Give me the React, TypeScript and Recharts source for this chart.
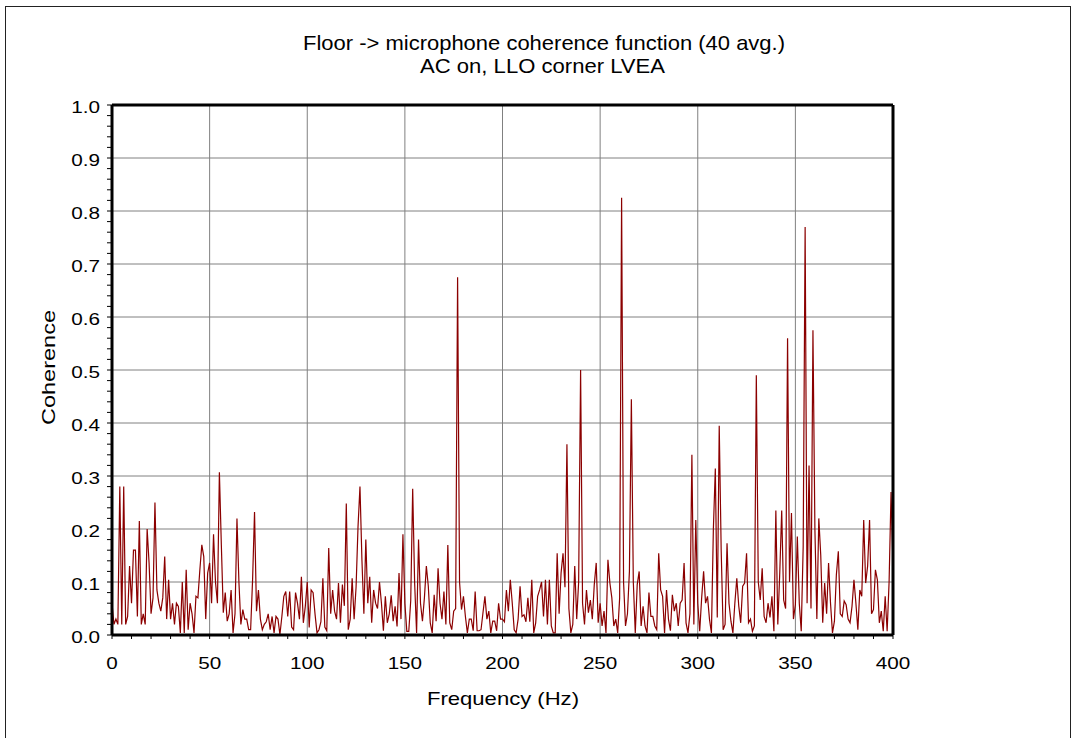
import { LineChart, Line, XAxis, YAxis, CartesianGrid, ReferenceLine } from "recharts"

// coherence, one value per Hz from 0 to 400 Hz
const coherence = [
  0.06, 0.02, 0.03, 0.02, 0.28, 0.02, 0.28, 0.02, 0.035, 0.13,
  0.06, 0.16, 0.16, 0.035, 0.215, 0.02, 0.04, 0.02, 0.2, 0.135,
  0.04, 0.07, 0.25, 0.085, 0.06, 0.045, 0.07, 0.148, 0.03, 0.104,
  0.03, 0.06, 0.02, 0.06, 0.054, 0.004, 0.1, 0.004, 0.123, 0.01,
  0.06, 0.04, 0.004, 0.073, 0.07, 0.123, 0.17, 0.148, 0.03, 0.117,
  0.136, 0.06, 0.19, 0.1, 0.06, 0.307, 0.17, 0.042, 0.08, 0.026,
  0.04, 0.085, 0.004, 0.04, 0.22, 0.1, 0.02, 0.048, 0.03, 0.03,
  0.01, 0.01, 0.104, 0.232, 0.045, 0.085, 0.03, 0.01, 0.02, 0.025,
  0.04, 0.01, 0.035, 0.004, 0.035, 0.03, 0.001, 0.035, 0.073, 0.082,
  0.035, 0.082, 0.015, 0.01, 0.08, 0.06, 0.03, 0.11, 0.023, 0.054,
  0.1, 0.014, 0.085, 0.08, 0.039, 0.004, 0.01, 0.025, 0.107, 0.015,
  0.008, 0.164, 0.04, 0.085, 0.045, 0.03, 0.098, 0.023, 0.095, 0.055,
  0.248, 0.01, 0.03, 0.107, 0.03, 0.09, 0.204, 0.28, 0.142, 0.04,
  0.18, 0.06, 0.11, 0.023, 0.085, 0.06, 0.05, 0.1, 0.06, 0.008,
  0.073, 0.023, 0.04, 0.075, 0.026, 0.054, 0.016, 0.117, 0.03, 0.19,
  0.06, 0.007, 0.007, 0.065, 0.276, 0.098, 0.004, 0.18, 0.06, 0.026,
  0.07, 0.13, 0.092, 0.023, 0.004, 0.076, 0.026, 0.126, 0.06, 0.03,
  0.082, 0.02, 0.17, 0.023, 0.01, 0.045, 0.05, 0.675, 0.1, 0.048,
  0.073, 0.035, 0.004, 0.03, 0.03, 0.008, 0.082, 0.008, 0.008, 0.01,
  0.042, 0.073, 0.03, 0.045, 0.004, 0.026, 0.026, 0.008, 0.06, 0.03,
  0.03, 0.025, 0.085, 0.045, 0.104, 0.06, 0.01, 0.004, 0.03, 0.092,
  0.035, 0.038, 0.025, 0.07, 0.025, 0.104, 0.004, 0.023, 0.073, 0.085,
  0.1, 0.035, 0.104, 0.02, 0.104, 0.017, 0.004, 0.004, 0.154, 0.04,
  0.117, 0.154, 0.09, 0.36, 0.05, 0.004, 0.02, 0.13, 0.03, 0.1,
  0.5, 0.06, 0.02, 0.085, 0.042, 0.066, 0.03, 0.095, 0.136, 0.023,
  0.06, 0.017, 0.045, 0.004, 0.142, 0.098, 0.07, 0.017, 0.03, 0.004,
  0.07, 0.825, 0.1, 0.017, 0.04, 0.12, 0.445, 0.1, 0.004, 0.095,
  0.12, 0.017, 0.054, 0.017, 0.004, 0.08, 0.035, 0.035, 0.017, 0.01,
  0.154, 0.085, 0.073, 0.004, 0.085, 0.03, 0.008, 0.076, 0.045, 0.06,
  0.017, 0.06, 0.066, 0.136, 0.023, 0.004, 0.04, 0.34, 0.02, 0.217,
  0.06, 0.007, 0.07, 0.12, 0.06, 0.073, 0.03, 0.004, 0.2, 0.314,
  0.033, 0.395, 0.16, 0.01, 0.02, 0.173, 0.06, 0.026, 0.004, 0.06,
  0.107, 0.055, 0.023, 0.092, 0.098, 0.154, 0.023, 0.03, 0.007, 0.017,
  0.49, 0.1, 0.066, 0.126, 0.035, 0.023, 0.06, 0.033, 0.073, 0.007,
  0.235, 0.02, 0.117, 0.235, 0.066, 0.05, 0.56, 0.1, 0.23, 0.03,
  0.057, 0.186, 0.06, 0.007, 0.167, 0.77, 0.06, 0.32, 0.05, 0.575,
  0.2, 0.03, 0.22, 0.15, 0.023, 0.098, 0.04, 0.136, 0.06, 0.004,
  0.026, 0.114, 0.158, 0.04, 0.035, 0.064, 0.057, 0.03, 0.023, 0.054,
  0.104, 0.06, 0.01, 0.085, 0.073, 0.217, 0.098, 0.13, 0.217, 0.04,
  0.048, 0.123, 0.104, 0.023, 0.045, 0.007, 0.073, 0.007, 0.1, 0.27,
  0.13,
]
const freqStepHz = 1

const xTicks = [0, 10, 20, 30, 40, 50, 60, 70, 80, 90, 100, 110, 120, 130, 140, 150, 160, 170, 180, 190, 200,
  210, 220, 230, 240, 250, 260, 270, 280, 290, 300, 310, 320, 330, 340, 350, 360, 370, 380, 390, 400]
const xLabels = [0, 50, 100, 150, 200, 250, 300, 350, 400]
const yTicks = [0, 0.02, 0.04, 0.06, 0.08, 0.1, 0.12, 0.14, 0.16, 0.18, 0.2, 0.22, 0.24, 0.26, 0.28, 0.3,
  0.32, 0.34, 0.36, 0.38, 0.4, 0.42, 0.44, 0.46, 0.48, 0.5, 0.52, 0.54, 0.56, 0.58, 0.6, 0.62, 0.64, 0.66,
  0.68, 0.7, 0.72, 0.74, 0.76, 0.78, 0.8, 0.82, 0.84, 0.86, 0.88, 0.9, 0.92, 0.94, 0.96, 0.98, 1]
const yLabels = [0, 0.1, 0.2, 0.3, 0.4, 0.5, 0.6, 0.7, 0.8, 0.9, 1]

const titleLines = ["Floor -> microphone coherence function (40 avg.)", "AC on, LLO corner LVEA"]
const xTitle = "Frequency (Hz)"
const yTitle = "Coherence"

const data = coherence.map((c, i) => ({ freq: i * freqStepHz, coherence: c }))

const FONT = '"Liberation Sans", Arial, sans-serif'

// the source picture is stretched sideways, so labels get widened a bit
function labelWidth(s: string) {
  let w = 0
  for (const ch of s) w += ch === "." ? 5.8 : 11.5
  return w
}

function XTick(props: any) {
  const { x, y, payload } = props
  if (!xLabels.includes(payload.value)) return <g />
  const s = String(payload.value)
  return (
    <text x={x} y={y + 28} textAnchor="middle" fontSize={16} fontFamily={FONT} fill="#000"
      textLength={labelWidth(s)} lengthAdjust="spacingAndGlyphs">
      {s}
    </text>
  )
}

function YTick(props: any) {
  const { x, y, payload } = props
  const v = payload.value as number
  if (!yLabels.some((l) => Math.abs(l - v) < 1e-9)) return <g />
  const s = v.toFixed(1)
  return (
    <text x={x} y={y + 8} textAnchor="end" fontSize={16} fontFamily={FONT} fill="#000"
      textLength={labelWidth(s)} lengthAdjust="spacingAndGlyphs">
      {s}
    </text>
  )
}

export default function App() {
  return (
    <div style={{ position: "absolute", left: 0, top: 0, width: 1076, height: 738, background: "#fff", overflow: "hidden" }}>
      <div style={{ position: "absolute", left: 5, top: 6, width: 1064, height: 800, border: "1px solid #222" }} />
      <LineChart
        width={1076}
        height={738}
        data={data}
        margin={{ top: 105, right: 183, bottom: 63, left: 42 }}
        style={{ position: "absolute", left: 0, top: 0 }}
      >
        {/* hidden x axis that only carries the major grid positions */}
        <XAxis xAxisId="grid" type="number" domain={[0, 400]} ticks={xLabels} hide />
        <CartesianGrid xAxisId="grid" horizontal={false} stroke="#808080" strokeWidth={1} />
        {yLabels.slice(1, -1).map((v) => (
          <ReferenceLine key={v} y={v} stroke="#808080" strokeWidth={1} />
        ))}
        <XAxis
          dataKey="freq"
          type="number"
          domain={[0, 400]}
          ticks={xTicks}
          interval={0}
          height={40}
          tickSize={4}
          tickLine={{ stroke: "#000", strokeWidth: 1 }}
          axisLine={{ stroke: "#000", strokeWidth: 3 }}
          tick={<XTick />}
        />
        <YAxis
          type="number"
          domain={[0, 1]}
          ticks={yTicks}
          interval={0}
          width={70}
          tickSize={5}
          tickMargin={7}
          tickLine={{ stroke: "#000", strokeWidth: 1 }}
          axisLine={{ stroke: "#000", strokeWidth: 3 }}
          tick={<YTick />}
        />
        <Line
          type="linear"
          dataKey="coherence"
          stroke="#8b0000"
          strokeWidth={1.2}
          dot={false}
          isAnimationActive={false}
        />
        <ReferenceLine y={1} stroke="#000" strokeWidth={3} />
        <ReferenceLine x={400} stroke="#000" strokeWidth={3} />
      </LineChart>
      <svg width={1076} height={738} style={{ position: "absolute", left: 0, top: 0, pointerEvents: "none" }}>
        <text x={544} y={50} textAnchor="middle" fontSize={21} fontFamily={FONT} fill="#000"
          textLength={482} lengthAdjust="spacingAndGlyphs">{titleLines[0]}</text>
        <text x={542.5} y={73} textAnchor="middle" fontSize={21} fontFamily={FONT} fill="#000"
          textLength={245} lengthAdjust="spacingAndGlyphs">{titleLines[1]}</text>
        <text x={503} y={705} textAnchor="middle" fontSize={19} fontFamily={FONT} fill="#000"
          textLength={152} lengthAdjust="spacingAndGlyphs">{xTitle}</text>
        <text transform="translate(55,367.5) rotate(-90)" x={0} y={0} textAnchor="middle" fontSize={19}
          fontFamily={FONT} fill="#000" textLength={115} lengthAdjust="spacingAndGlyphs">{yTitle}</text>
      </svg>
    </div>
  )
}
